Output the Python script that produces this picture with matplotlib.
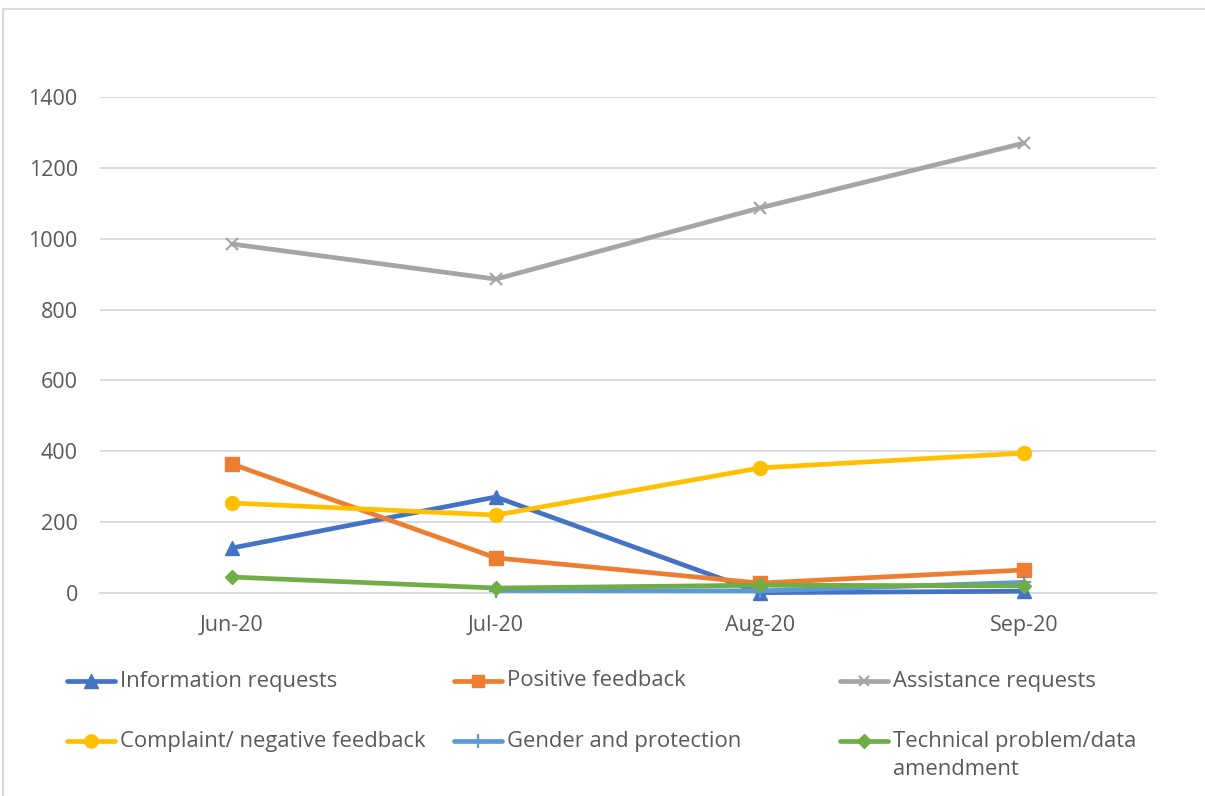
import numpy as np
import matplotlib
matplotlib.use("Agg")
import matplotlib.pyplot as plt
from matplotlib.lines import Line2D

plt.rcParams['font.family'] = ['Open Sans', 'DejaVu Sans']

months = ["Jun-20", "Jul-20", "Aug-20", "Sep-20"]

information_requests = [127, 271, 1, 5]
positive_feedback = [364, 99, 28, 65]
assistance_requests = [985, 886, 1087, 1270]
complaint_negative = [254, 220, 353, 395]
gender_protection = [np.nan, 7, 6, 30]
technical_problem = [45, 14, 22, 20]

series = [
    ("Information requests", information_requests, "#4472C4", "^", 10),
    ("Positive feedback", positive_feedback, "#ED7D31", "s", 9.5),
    ("Assistance requests", assistance_requests, "#A5A5A5", "x", 8),
    ("Complaint/ negative feedback", complaint_negative, "#FFC000", "o", 10),
    ("Gender and protection", gender_protection, "#5B9BD5", "+", 10),
    ("Technical problem/data\namendment", technical_problem, "#70AD47", "D", 7.5),
]

W, H = 1205, 796
fig = plt.figure(figsize=(W / 100, H / 100), dpi=100)
ax = fig.add_axes([100 / W, 1 - 593 / H, (1156 - 100) / W, (593 - 97) / H])

text_color = "#595959"
grid_color = "#D9D9D9"
lw = 3.4
fs = 15.5
legend_fs = 15.8

x = np.arange(len(months))
for i, (name, vals, color, marker, ms) in enumerate(series):
    mew = 1.6 if marker in ("x", "+") else 1.0
    ax.plot(x, vals, color=color, lw=lw, marker=marker, markersize=ms,
            markeredgewidth=mew, markeredgecolor=color, markerfacecolor=color,
            solid_capstyle="round", zorder=3 + i, clip_on=False)

ax.set_xlim(-0.5, len(months) - 0.5)
ax.set_ylim(0, 1400)
ax.set_yticks(np.arange(0, 1401, 200))
ax.set_xticks(x)
ax.set_xticklabels(months)
ax.yaxis.grid(True, color=grid_color, lw=1.3)
ax.set_axisbelow(True)
for s in ("top", "right", "left"):
    ax.spines[s].set_visible(False)
ax.spines["bottom"].set_color(grid_color)
ax.spines["bottom"].set_linewidth(1.3)
ax.tick_params(axis="both", length=0, labelsize=fs, colors=text_color)
ax.tick_params(axis="y", pad=16)
ax.tick_params(axis="x", pad=16)

# Outer chart frame (top and left edges)
fig.add_artist(Line2D([3 / W, 3 / W], [0, 1 - 9 / H], transform=fig.transFigure,
                      color=grid_color, lw=1.5))
fig.add_artist(Line2D([3 / W, 1], [1 - 9 / H, 1 - 9 / H], transform=fig.transFigure,
                      color=grid_color, lw=1.5))

# Legend laid out in three columns and two rows
col_x = [65, 452, 838]
row_y = [681, 741]
for i, (name, vals, color, marker, ms) in enumerate(series):
    cx = col_x[i % 3]
    cy = row_y[i // 3]
    fy = 1 - cy / H
    mew = 1.6 if marker in ("x", "+") else 1.0
    fig.add_artist(Line2D([(cx + 2) / W, (cx + 50) / W], [fy, fy], transform=fig.transFigure,
                          color=color, lw=lw, solid_capstyle="round"))
    fig.add_artist(Line2D([(cx + 26) / W], [fy], transform=fig.transFigure,
                          color=color, marker=marker, markersize=ms * 0.95,
                          markeredgewidth=mew, markeredgecolor=color,
                          markerfacecolor=color, lw=0))
    fig.text((cx + 55) / W, fy + 10.5 / H, name, fontsize=legend_fs, color=text_color,
             ha="left", va="top", linespacing=1.45)

fig.savefig("out.png", dpi=100, facecolor="white")
